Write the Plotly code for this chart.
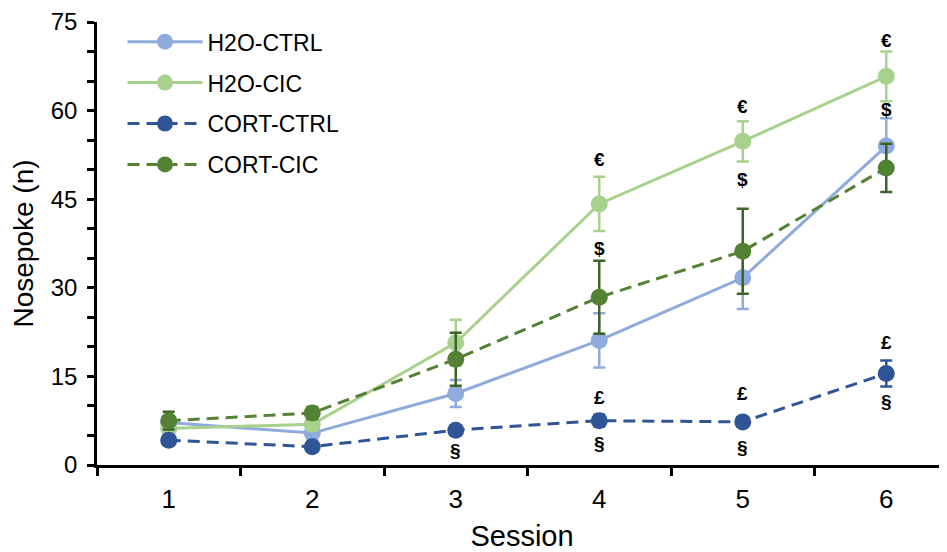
import plotly.graph_objects as go

sessions = [1, 2, 3, 4, 5, 6]

h2o_ctrl = [7.2, 5.4, 12.1, 21.1, 31.7, 54.0]
h2o_ctrl_err = [1.0, 1.0, 2.3, 4.6, 5.3, 4.7]

h2o_cic = [6.2, 6.9, 20.7, 44.2, 54.8, 65.8]
h2o_cic_err = [1.0, 1.0, 3.9, 4.6, 3.4, 4.2]

cort_ctrl = [4.2, 3.1, 5.9, 7.5, 7.3, 15.5]
cort_ctrl_err = [0.8, 0.6, 0.8, 1.0, 0.8, 2.2]

cort_cic = [7.5, 8.8, 17.9, 28.4, 36.2, 50.3]
cort_cic_err = [1.5, 1.0, 4.5, 6.2, 7.2, 4.1]

# significance symbols: (session, y value, text)
sig_x = [3, 4, 4, 4, 4, 5, 5, 5, 5, 6, 6, 6, 6]
sig_y = [2.5, 51.7, 36.6, 11.5, 3.7, 60.7, 48.4, 12.1, 2.9, 71.8, 60.2, 20.8, 10.7]
sig_text = ["§", "€", "$", "£", "§", "€", "$", "£", "§", "€", "$", "£", "§"]

series = [
    ("H2O-CTRL", h2o_ctrl, h2o_ctrl_err, "#8FAADC", "#8FAADC", "solid"),
    ("H2O-CIC", h2o_cic, h2o_cic_err, "#A9D18E", "#A9D18E", "solid"),
    ("CORT-CTRL", cort_ctrl, cort_ctrl_err, "#2F5597", "#2F5597", "12px,7px"),
    ("CORT-CIC", cort_cic, cort_cic_err, "#548235", "#3D6327", "12px,7px"),
]

fig = go.Figure()
for name, vals, errs, col, ecol, dash in series:
    fig.add_trace(go.Scatter(
        x=sessions, y=vals, name=name, mode="lines+markers",
        legendgroup=name,
        line=dict(color=col, width=3, dash=dash),
        marker=dict(color=col, size=17),
        error_y=dict(type="data", array=errs, visible=True, color=ecol,
                     thickness=2.5, width=6),
    ))

for sx, sy, st in zip(sig_x, sig_y, sig_text):
    fig.add_annotation(x=sx, y=sy, text="<b>" + st + "</b>", showarrow=False,
                       font=dict(size=19, color="black", family="Liberation Sans, Arial"))

font_family = "Liberation Sans, Arial, sans-serif"
fig.update_layout(
    width=939, height=544,
    margin=dict(l=89, r=0, t=12, b=87),
    paper_bgcolor="white", plot_bgcolor="white",
    font=dict(family=font_family, color="black", size=22),
    legend=dict(x=0.03, y=1.004, xanchor="left", yanchor="top",
                font=dict(size=23, color="black"), tracegroupgap=8,
                itemwidth=75, bgcolor="rgba(0,0,0,0)"),
    xaxis=dict(
        range=[0.5, 0.5 + 850 / 143.5],
        tickvals=sessions, ticktext=[str(s) for s in sessions],
        ticks="", showgrid=False, zeroline=False,
        showline=True, linecolor="black", linewidth=2.5,
        ticklabelstandoff=9, ticklabeloverflow="allow",
        minor=dict(ticks="outside", tick0=0.5, dtick=1, ticklen=8,
                   tickwidth=2.5, tickcolor="black", showgrid=False),
        title=dict(text="Session", font=dict(size=29), standoff=15),
        tickfont=dict(size=26),
    ),
    yaxis=dict(
        range=[0, 75], tickvals=[0, 15, 30, 45, 60, 75],
        ticks="outside", ticklen=7, tickwidth=2.5, tickcolor="black",
        showgrid=False, zeroline=False,
        showline=True, linecolor="black", linewidth=2.5,
        ticklabelstandoff=5, ticklabeloverflow="allow",
        minor=dict(ticks="outside", dtick=5, ticklen=7, tickwidth=2.5,
                   tickcolor="black", showgrid=False),
        title=dict(text="Nosepoke (n)", font=dict(size=28), standoff=12),
        tickfont=dict(size=24),
    ),
)

fig.write_html("out.html")
